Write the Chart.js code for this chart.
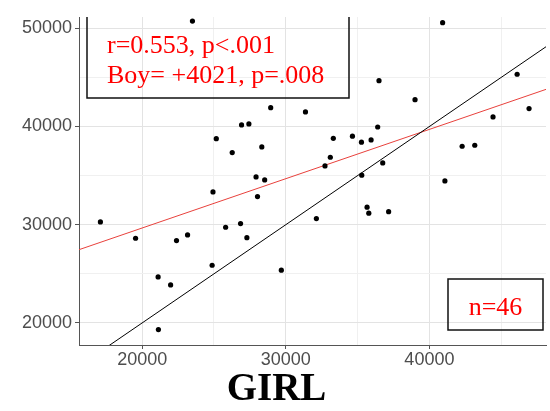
<!DOCTYPE html>
<html>
<head>
<meta charset="utf-8">
<script src="https://cdn.jsdelivr.net/npm/chart.js@4.4.0/dist/chart.umd.min.js"></script>
<style>
  html, body { margin: 0; padding: 0; background: #fff; }
  #wrap { width: 550px; height: 411px; }
</style>
</head>
<body>
<div id="wrap"><canvas id="chart" width="550" height="411"></canvas></div>
<script>
// girl / boy values, one pair per family
const girl = [23500, 28950, 25160, 26920, 27430, 26270, 28330, 27930, 28530, 24930,
  28030, 40920, 36490, 39000, 31370, 46110, 46940, 44430, 36400, 33310,
  34640, 35270, 35940, 33100, 32730, 36750, 35290, 42280, 43160, 41080,
  17090, 19540, 22390, 23160, 25810, 26850, 27290, 24870, 21110, 21980,
  21130, 35660, 35780, 37160, 32130, 29690];
const boy = [50740, 41920, 38760, 40160, 40260, 37340, 37920, 34860, 34560, 33340,
  32860, 50570, 44670, 42730, 41480, 45320, 41820, 40970, 39950, 38800,
  39010, 38400, 38630, 36870, 35980, 36290, 35040, 37990, 38090, 34460,
  30280, 28620, 28380, 28960, 29740, 30110, 28680, 25870, 24680, 23870,
  19320, 31780, 31170, 31330, 30620, 25370];

const xTicks = [20000, 25000, 30000, 35000, 40000, 45000];
const yTicks = [20000, 25000, 30000, 35000, 40000, 45000, 50000];
const xRange = [15600, 48120];
const yRange = [17750, 51150];

// red fit line
const fitLine = { intercept: 19625, slope: 0.502 };

const statLines = ['r=0.553, p<.001', 'Boy= +4021, p=.008'];
const nLabel = 'n=46';
const xTitle = 'GIRL';

const isMajor = v => v % 10000 === 0;

// text boxes and the axis title, laid over the panel
const notes = {
  id: 'notes',
  afterDraw(chart) {
    const ctx = chart.ctx;
    const area = chart.chartArea;
    ctx.save();
    ctx.strokeStyle = '#111';
    ctx.lineWidth = 1.5;
    // stats box, its top edge is cut off
    ctx.beginPath();
    ctx.moveTo(87, area.top);
    ctx.lineTo(87, 98);
    ctx.lineTo(349, 98);
    ctx.lineTo(349, area.top);
    ctx.stroke();
    ctx.strokeRect(448, 279, 95, 51);

    ctx.fillStyle = '#ff0000';
    ctx.font = '26px "Liberation Serif", "Times New Roman", serif';
    ctx.textBaseline = 'alphabetic';
    ctx.fillText(statLines[0], 107, 52.5);
    ctx.fillText(statLines[1], 107, 83);
    ctx.textAlign = 'center';
    ctx.fillText(nLabel, 495.5, 314.5);

    ctx.fillStyle = '#000';
    ctx.font = 'bold 39px "Liberation Serif", "Times New Roman", serif';
    ctx.fillText(xTitle, 276.5, 399.5);
    ctx.restore();
  }
};

const tickFont = { family: '"Liberation Sans", Arial, sans-serif', size: 18 };

function gridOpts() {
  return {
    color: c => isMajor(c.tick.value) ? '#e3e3e3' : '#f0f0f0',
    lineWidth: 1,
    drawTicks: true,
    tickLength: 4,
    tickColor: c => isMajor(c.tick.value) ? '#555' : 'rgba(0,0,0,0)'
  };
}

var chart = new Chart(document.getElementById('chart'), {
  type: 'scatter',
  data: {
    datasets: [
      {
        label: 'pairs',
        data: girl.map((g, i) => ({ x: g, y: boy[i] })),
        backgroundColor: '#000',
        borderColor: '#000',
        pointRadius: 2.6,
        pointBorderWidth: 0,
        order: 0
      },
      {
        type: 'line',
        label: 'equal',
        data: xRange.map(v => ({ x: v, y: v })),
        borderColor: '#000',
        borderWidth: 1,
        pointRadius: 0,
        order: 1
      },
      {
        type: 'line',
        label: 'fit',
        data: xRange.map(v => ({ x: v, y: fitLine.intercept + fitLine.slope * v })),
        borderColor: '#e8413c',
        borderWidth: 1,
        pointRadius: 0,
        order: 2
      }
    ]
  },
  options: {
    responsive: false,
    devicePixelRatio: 1,
    animation: false,
    layout: { padding: { top: 17, right: 1, left: 0, bottom: 0 } },
    plugins: {
      legend: { display: false },
      tooltip: { enabled: false }
    },
    scales: {
      x: {
        type: 'linear',
        min: xRange[0],
        max: xRange[1],
        afterFit: s => {
          s.height = 66;
          s.paddingLeft = 0;
          s.paddingRight = 0;
        },
        afterBuildTicks: s => { s.ticks = xTicks.map(v => ({ value: v })); },
        ticks: {
          callback: v => isMajor(v) ? String(v) : '',
          font: tickFont,
          color: '#4d4d4d',
          padding: 0,
          maxRotation: 0,
          autoSkip: false
        },
        grid: gridOpts(),
        border: { display: true, color: '#555', width: 1 }
      },
      y: {
        type: 'linear',
        min: yRange[0],
        max: yRange[1],
        afterFit: s => {
          s.width = 79;
          s.paddingTop = 0;
          s.paddingBottom = 0;
        },
        afterBuildTicks: s => { s.ticks = yTicks.map(v => ({ value: v })); },
        ticks: {
          callback: v => isMajor(v) ? String(v) : '',
          font: tickFont,
          color: '#4d4d4d',
          padding: 3,
          autoSkip: false
        },
        grid: gridOpts(),
        border: { display: true, color: '#555', width: 1 }
      }
    }
  },
  plugins: [notes]
});
</script>
</body>
</html>
